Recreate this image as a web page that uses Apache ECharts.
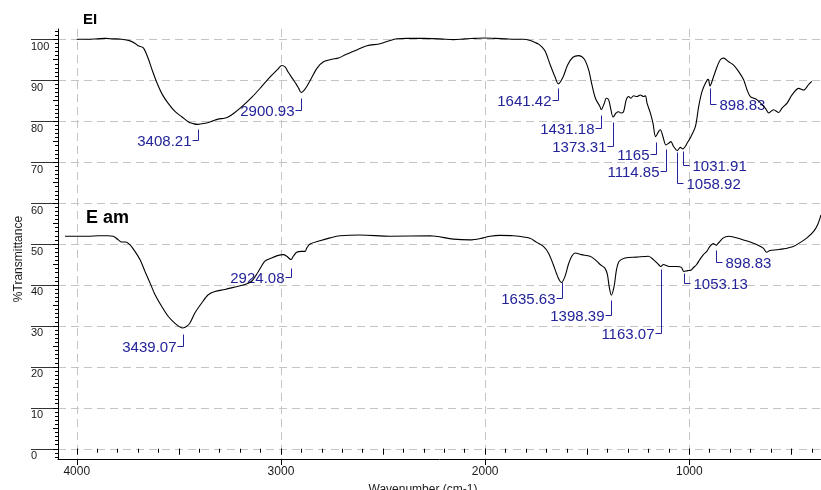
<!DOCTYPE html>
<html>
<head>
<meta charset="utf-8">
<script src="https://cdn.jsdelivr.net/npm/echarts@6/dist/echarts.min.js"></script>
<style>
  html, body { margin: 0; padding: 0; background: #fff; }
  #chart { width: 821px; height: 490px; }
</style>
</head>
<body>
<div id="chart"></div>
<script>
// ---- Spectrum "EI" (wavenumber in cm-1, %T) ----
const eiWavenumber = [
  4000, 3950, 3900, 3860, 3820, 3780, 3739, 3712, 3700, 3674, 3651, 3631, 3607, 3582, 3553, 3518,
  3484, 3453, 3430, 3408.21, 3371, 3337, 3308, 3278, 3259, 3229, 3190, 3141, 3092, 3053, 3019,
  2996, 2979, 2965, 2945, 2926, 2913, 2900.93, 2886, 2872, 2855, 2824, 2792, 2751, 2718, 2685,
  2628, 2579, 2514, 2465, 2432, 2383, 2300, 2220, 2155, 2100, 2050, 2008, 1950, 1900, 1861,
  1812, 1779, 1755, 1738, 1720, 1705, 1681, 1657, 1641.42, 1619, 1596, 1570, 1542, 1514, 1493,
  1477, 1460, 1439, 1431.18, 1416, 1407, 1395, 1384, 1373.31, 1358, 1346, 1335, 1322, 1309,
  1297, 1286, 1273, 1256, 1240, 1224, 1215, 1207, 1191, 1178, 1165, 1150, 1142, 1129, 1114.85,
  1101, 1090, 1077, 1058.92, 1044, 1031.91, 1020, 1011, 992, 970, 954, 938, 917, 907, 898.83,
  881, 864, 848, 832, 807, 783, 758, 734, 717, 701, 668, 628, 611, 587, 562, 546, 521, 497,
  464, 440, 415, 400
];
const eiTransmittance = [
  100.0, 100.0, 100.1, 100.2, 100.1, 100.0, 99.6, 98.9, 98.4, 97.9, 95.4, 92.5, 89.3, 86.6, 84.4, 82.3,
  81.0, 79.8, 79.4, 79.2, 79.5, 80.0, 80.5, 80.7, 81.0, 82.0, 83.6, 85.9, 88.6, 90.8, 92.5,
  93.6, 93.2, 92.0, 90.5, 89.1, 88.0, 87.0, 87.6, 88.6, 90.1, 92.9, 94.5, 95.1, 95.4, 96.2,
  97.4, 98.4, 98.9, 99.7, 100.1, 100.2, 100.2, 100.1, 99.9, 100.1, 100.2, 100.3, 100.2, 100.1, 100.0,
  100.0, 99.7, 99.2, 98.8, 98.0, 97.0, 93.7, 90.7, 89.1, 90.7, 93.7, 95.6, 96.0, 95.1, 92.5,
  88.9, 85.6, 83.7, 82.8, 84.4, 85.6, 85.2, 82.8, 81.0, 82.0, 82.3, 82.0, 82.3, 85.2,
  86.0, 85.6, 86.2, 86.0, 86.4, 86.0, 86.2, 84.4, 82.0, 79.5, 76.2, 77.5, 77.9, 76.2, 74.2,
  74.6, 75.0, 73.8, 72.8, 73.6, 73.2, 73.8, 74.6, 76.2, 78.7, 83.6, 87.2, 89.7, 90.2, 88.6,
  90.9, 93.3, 95.0, 95.4, 94.5, 93.7, 92.1, 90.1, 87.6, 86.0, 85.2, 83.2, 82.0, 82.8, 82.1, 83.2, 84.4, 86.4,
  88.0, 87.6, 89.0, 89.7
];

// ---- Spectrum "E am" (wavenumber in cm-1, %T) ----
const eamWavenumber = [
  4000, 3950, 3889, 3840, 3794, 3770, 3746, 3730, 3711, 3690, 3667, 3643, 3619, 3595, 3571, 3540,
  3508, 3476, 3452, 3439.07, 3420, 3405, 3381, 3349, 3318, 3286, 3238, 3190, 3143, 3111, 3079,
  3048, 3016, 2992, 2960, 2944, 2924.08, 2913, 2897, 2873, 2856, 2849, 2833, 2786, 2738, 2690,
  2595, 2452, 2262, 2151, 2071, 2008, 1976, 1929, 1865, 1786, 1754, 1722, 1698, 1675, 1651,
  1635.63, 1619, 1603, 1587, 1571, 1540, 1500, 1476, 1452, 1429, 1417, 1409, 1398.39, 1385, 1374,
  1361, 1333, 1278, 1222, 1198, 1174, 1163.07, 1150, 1134, 1119, 1087, 1065, 1053.13, 1035, 1020,
  1008, 992, 976, 960, 944, 929, 913, 898.83, 889, 865, 841, 817, 770, 722, 675, 659, 643, 611,
  580, 532, 498, 467, 435, 416, 400
];
const eamTransmittance = [
  51.9, 51.9, 51.9, 52.0, 52.0, 51.9, 51.0, 50.5, 50.5, 49.8, 48.2, 46.2, 43.3, 40.5, 37.6, 34.8,
  32.3, 30.6, 29.7, 29.5, 29.9, 30.7, 33.2, 35.6, 37.6, 38.4, 38.9, 39.5, 40.1, 40.9, 43.3,
  45.8, 46.6, 47.1, 47.4, 47.0, 46.2, 47.0, 48.0, 48.2, 48.2, 49.0, 50.0, 50.8, 51.5, 52.0,
  52.2, 51.9, 52.0, 51.2, 51.0, 51.5, 51.9, 52.1, 52.0, 51.4, 50.4, 49.4, 47.8, 45.0, 41.7,
  40.6, 42.1, 45.0, 47.0, 47.8, 47.4, 47.0, 46.2, 45.0, 44.1, 42.5, 39.7, 37.5, 39.7, 43.7,
  45.8, 46.6, 46.8, 47.0, 46.2, 45.0, 44.5, 45.0, 44.7, 44.5, 44.5, 44.3, 43.3, 43.5, 43.6,
  44.2, 45.0, 46.3, 47.4, 48.2, 49.4, 50.1, 49.7, 50.2, 51.5, 51.9, 51.7, 51.0, 50.2, 49.0, 48.0, 48.4, 48.6,
  48.8, 49.4, 50.4, 51.5, 53.1, 54.7, 57.1
];

// ---- Peak annotations ----
const eiPeakLabels = ['3408.21', '2900.93', '1641.42', '1431.18', '1373.31', '1165', '1114.85', '1058.92', '1031.91', '898.83'];
const eamPeakLabels = ['3439.07', '2924.08', '1635.63', '1398.39', '1163.07', '1053.13', '898.83'];

// ---- Axis text ----
const spectrumNames = ['EI', 'E am'];
const xTickValues = [4000, 3000, 2000, 1000];
const yTickValues = [0, 10, 20, 30, 40, 50, 60, 70, 80, 90, 100];
const xAxisTitle = 'Wavenumber (cm-1)';
const yAxisTitle = '%Transmittance';

// Leader layout for each annotation: [leader start %T, elbow %T, text side (-1 left, 1 right)]
const eiLeaderLayout = [
  [78.1, 75.4, -1], [85.6, 82.7, -1], [88.0, 85.2, -1], [81.5, 78.3, -1], [79.9, 74.0, -1],
  [75.0, 72.0, -1], [73.2, 67.8, -1], [72.5, 65.0, 1], [72.8, 69.2, 1], [88.0, 84.2, 1]
];
const eamLeaderLayout = [
  [28.0, 25.1, -1], [44.1, 41.9, -1], [40.8, 36.7, -1], [36.3, 32.6, -1], [43.8, 28.2, -1],
  [43.0, 40.4, 1], [48.5, 45.6, 1]
];

const FONT = '"Liberation Sans", Arial, Helvetica, sans-serif';
const LABEL_BLUE = '#23239a';
const GRID_GRAY = '#c4c4c4';

function pairs(xs, ys) { return xs.map((x, i) => [x, ys[i]]); }
function range(a, b, step) { const out = []; for (let v = a; v <= b + 1e-9; v += step) out.push(v); return out; }

function leaderRows(labels, layout) {
  return labels.map((t, i) => [parseFloat(t), layout[i][0], layout[i][1], layout[i][2]]);
}

function leaderRenderer(labels) {
  return function (params, api) {
    const wn = api.value(0);
    const side = api.value(3);
    const p0 = api.coord([wn, api.value(1)]);
    const p1 = api.coord([wn, api.value(2)]);
    const x = Math.round(p0[0]) + 0.5;
    const y0 = Math.round(p0[1]) + 0.5;
    const y1 = Math.round(p1[1]) + 0.5;
    const x2 = x + side * 6;
    return {
      type: 'group',
      children: [
        { type: 'polyline', shape: { points: [[x, y0], [x, y1], [x2, y1]] },
          style: { stroke: LABEL_BLUE, lineWidth: 1, fill: null } },
        { type: 'text',
          style: { text: labels[params.dataIndex], x: x2 + (side > 0 ? 3 : -1), y: y1 + 1,
                   align: side > 0 ? 'left' : 'right', verticalAlign: 'middle',
                   fill: LABEL_BLUE, font: '15px ' + FONT } }
      ]
    };
  };
}

// Shared bounds of the plotting frame
const X_MIN = 355, X_MAX = 4092;      // displayed wavenumber axis
const Y_MIN = -2.5, Y_MAX = 102.5;

function tickOverlayX(values, len) {
  return {
    type: 'value', inverse: true, min: X_MIN, max: X_MAX, position: 'bottom', gridIndex: 0,
    axisLine: { show: false }, splitLine: { show: false }, axisLabel: { show: false },
    axisTick: { show: true, inside: false, length: len, customValues: values,
                lineStyle: { color: '#000', width: 1 } }
  };
}
function tickOverlayY(values, len) {
  return {
    type: 'value', min: Y_MIN, max: Y_MAX, position: 'left', gridIndex: 0,
    axisLine: { show: false }, splitLine: { show: false }, axisLabel: { show: false },
    axisTick: { show: true, inside: false, length: len, customValues: values,
                lineStyle: { color: '#000', width: 1 } }
  };
}

const chart = echarts.init(document.getElementById('chart'), null, { renderer: 'canvas' });

chart.setOption({
  animation: false,
  backgroundColor: '#fff',
  grid: { left: 58, top: 29, right: 0, bottom: 31, containLabel: false },
  xAxis: [
    { // main wavenumber axis
      type: 'value', inverse: true, min: X_MIN, max: X_MAX, position: 'bottom',
      axisLine: { show: true, onZero: false, lineStyle: { color: '#000', width: 1 } },
      axisTick: { show: true, length: 6, customValues: xTickValues, lineStyle: { color: '#000' } },
      axisLabel: { customValues: xTickValues, formatter: v => String(v), margin: 7,
                   fontSize: 12, fontFamily: FONT, color: '#1a1a1a' },
      splitLine: { show: true, lineStyle: { color: GRID_GRAY, type: [8, 5], width: 1 } }
    },
    { // scale used by the "E am" trace
      type: 'value', inverse: true, min: 400, max: 4033.3, show: false, position: 'bottom'
    },
    tickOverlayX(range(400, 4000, 100), 4),
    tickOverlayX(range(500, 4000, 500), 6)
  ],
  yAxis: [
    {
      type: 'value', min: Y_MIN, max: Y_MAX, position: 'left',
      axisLine: { show: true, onZero: false, lineStyle: { color: '#000', width: 1 } },
      axisTick: { show: true, length: 27, customValues: yTickValues, lineStyle: { color: '#333', width: 1 } },
      axisLabel: { customValues: yTickValues, formatter: v => String(v), margin: 27, align: 'left',
                   verticalAlign: 'top', padding: [2, 0, 0, 0], fontSize: 11, fontFamily: FONT, color: '#1a1a1a' },
      splitLine: { show: true, lineStyle: { color: GRID_GRAY, type: [8, 5], width: 1 } }
    },
    tickOverlayY(range(-2, 102, 1), 3),
    tickOverlayY(range(0, 100, 5), 5)
  ],
  series: [
    {
      name: spectrumNames[0], type: 'line', xAxisIndex: 0, yAxisIndex: 0,
      data: pairs(eiWavenumber, eiTransmittance), symbol: 'none', smooth: 0.3,
      lineStyle: { color: '#000', width: 1.1 }, silent: true
    },
    {
      name: spectrumNames[1], type: 'line', xAxisIndex: 1, yAxisIndex: 0,
      data: pairs(eamWavenumber, eamTransmittance), symbol: 'none', smooth: 0.3,
      lineStyle: { color: '#000', width: 1.1 }, silent: true
    },
    {
      type: 'custom', xAxisIndex: 0, yAxisIndex: 0, silent: true,
      data: leaderRows(eiPeakLabels, eiLeaderLayout), encode: { x: 0, y: [1, 2] },
      renderItem: leaderRenderer(eiPeakLabels)
    },
    {
      type: 'custom', xAxisIndex: 1, yAxisIndex: 0, silent: true,
      data: leaderRows(eamPeakLabels, eamLeaderLayout), encode: { x: 0, y: [1, 2] },
      renderItem: leaderRenderer(eamPeakLabels)
    }
  ],
  graphic: [
    { type: 'text', left: 83, top: 12, silent: true,
      style: { text: spectrumNames[0], font: 'bold 15px ' + FONT, fill: '#000' } },
    { type: 'text', left: 86, top: 209, silent: true,
      style: { text: spectrumNames[1], font: 'bold 18px ' + FONT, fill: '#000' } },
    { type: 'text', x: 18.5, y: 259, rotation: Math.PI / 2, silent: true,
      style: { text: yAxisTitle, align: 'center', verticalAlign: 'middle', font: '12px ' + FONT, fill: '#1a1a1a' } },
    { type: 'text', x: 423, y: 490, silent: true,
      style: { text: xAxisTitle, align: 'center', verticalAlign: 'middle', font: '12px ' + FONT, fill: '#1a1a1a' } }
  ]
});
</script>
</body>
</html>
